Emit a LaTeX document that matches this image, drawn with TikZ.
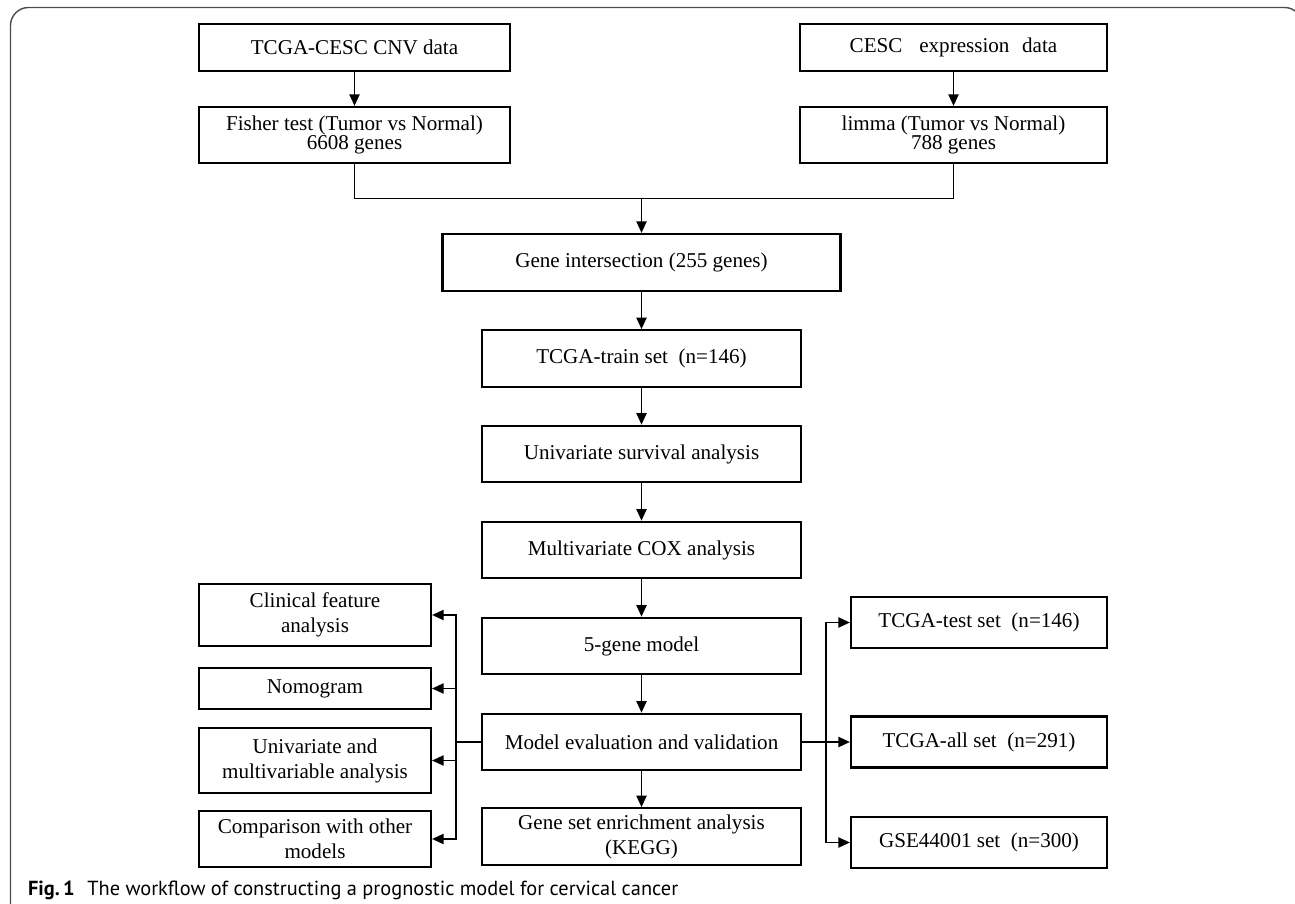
\documentclass[tikz,border=0pt]{standalone}
\usepackage{fontspec}
\setmainfont{Liberation Serif}
\newfontfamily\capfont{PT Sans}
\usetikzlibrary{positioning}
\usetikzlibrary{arrows.meta}
\setlength{\lineskiplimit}{-1cm}

\begin{document}
\begin{tikzpicture}[every node/.style={draw, line width=1.2pt, align=center, inner sep=2pt, font=\fontsize{12}{14.2}\selectfont},
    arr/.style={-{Triangle[length=2.3mm, width=2mm]}, line width=1.1pt},
    lin/.style={line width=1.1pt},
    tight/.style={font=\fontsize{12}{10.8}\selectfont},
    colbox/.style={minimum width=6.38cm, minimum height=1.13cm},
    lbox/.style={minimum width=4.64cm},
    rbox/.style={minimum width=5.12cm, minimum height=1.02cm}]
            \useasboundingbox (0,0) rectangle (25.9,-18.08);
            % Marco
            \draw[black!70, line width=0.8pt, rounded corners=0.36cm] (0.21,-18.5) -- (0.21,-0.15) -- (26.05,-0.15) -- (26.05,-2);

            % Nodos
            \node[minimum width=6.22cm, minimum height=0.94cm] (cnv) at (7.09,-0.95) {TCGA-CESC CNV data};
            \node[tight, minimum width=6.22cm, minimum height=1.12cm] (fisher) at (7.09,-2.70) {Fisher test (Tumor vs Normal)\\6608 genes};
            \node[minimum width=6.14cm, minimum height=0.94cm] (expr) at (19.07,-0.95) {CESC\hspace{0.8em}expression\hspace{0.6em}data};
            \node[tight, minimum width=6.14cm, minimum height=1.12cm] (limma) at (19.07,-2.70) {limma (Tumor vs Normal)\\788 genes};
            \node[minimum width=7.96cm, minimum height=1.14cm] (inter) at (12.83,-5.25) {Gene intersection (255 genes)};
            \node[colbox] (train) at (12.83,-7.17) {TCGA-train set~ (n=146)};
            \node[colbox] (univ) at (12.83,-9.08) {Univariate survival analysis};
            \node[colbox] (multi) at (12.83,-11.00) {Multivariate COX analysis};
            \node[colbox] (model) at (12.83,-12.92) {5-gene model};
            \node[colbox] (eval) at (12.83,-14.84) {Model evaluation and validation};
            \node[colbox] (gsea) at (12.83,-16.73) {Gene set enrichment analysis\\(KEGG)};
            \node[lbox, minimum height=1.24cm] (clin) at (6.30,-12.30) {Clinical feature\\analysis};
            \node[lbox, minimum height=0.82cm] (nomo) at (6.30,-13.77) {Nomogram};
            \node[lbox, minimum height=1.30cm] (unimulti) at (6.30,-15.21) {Univariate and\\multivariable analysis};
            \node[lbox, minimum height=1.12cm] (comp) at (6.30,-16.78) {Comparison with other\\models};
            \node[rbox] (tst) at (19.58,-12.45) {TCGA-test set~ (n=146)};
            \node[rbox] (tall) at (19.58,-14.84) {TCGA-all set~ (n=291)};
            \node[rbox] (gse) at (19.58,-16.85) {GSE44001 set~ (n=300)};
            \node[draw=none, anchor=base west, inner sep=0pt, font=\capfont\fontsize{11.6}{14}\selectfont] (cap) at (0.54,-17.9) {\textbf{Fig.\,1}\hspace{0.25cm}The workflow of constructing a prognostic model for cervical cancer};
            \coordinate (join) at (12.83,-3.97);
            \coordinate (lbus) at (9.12,-14.84);
            \coordinate (rbus) at (16.52,-14.84);

            % Aristas
            \draw[arr] (cnv) -- (fisher);
            \draw[arr] (expr) -- (limma);
            \draw[lin] (fisher.south) |- (join) -| (limma.south);
            \draw[arr] (join) -- (inter);
            \draw[arr] (inter) -- (train);
            \draw[arr] (train) -- (univ);
            \draw[arr] (univ) -- (multi);
            \draw[arr] (multi) -- (model);
            \draw[arr] (model) -- (eval);
            \draw[arr] (eval) -- (gsea);
            \draw[lin] (eval) -- (lbus);
            \draw[arr] (lbus) |- (clin);
            \draw[arr] (lbus) |- (nomo);
            \draw[arr] (lbus) |- (unimulti);
            \draw[arr] (lbus) |- (comp);
            \draw[lin] (eval) -- (rbus);
            \draw[arr] (rbus) |- (tst);
            \draw[arr] (rbus) -- (tall);
            \draw[arr] (rbus) |- (gse);
          \end{tikzpicture}
\end{document}
